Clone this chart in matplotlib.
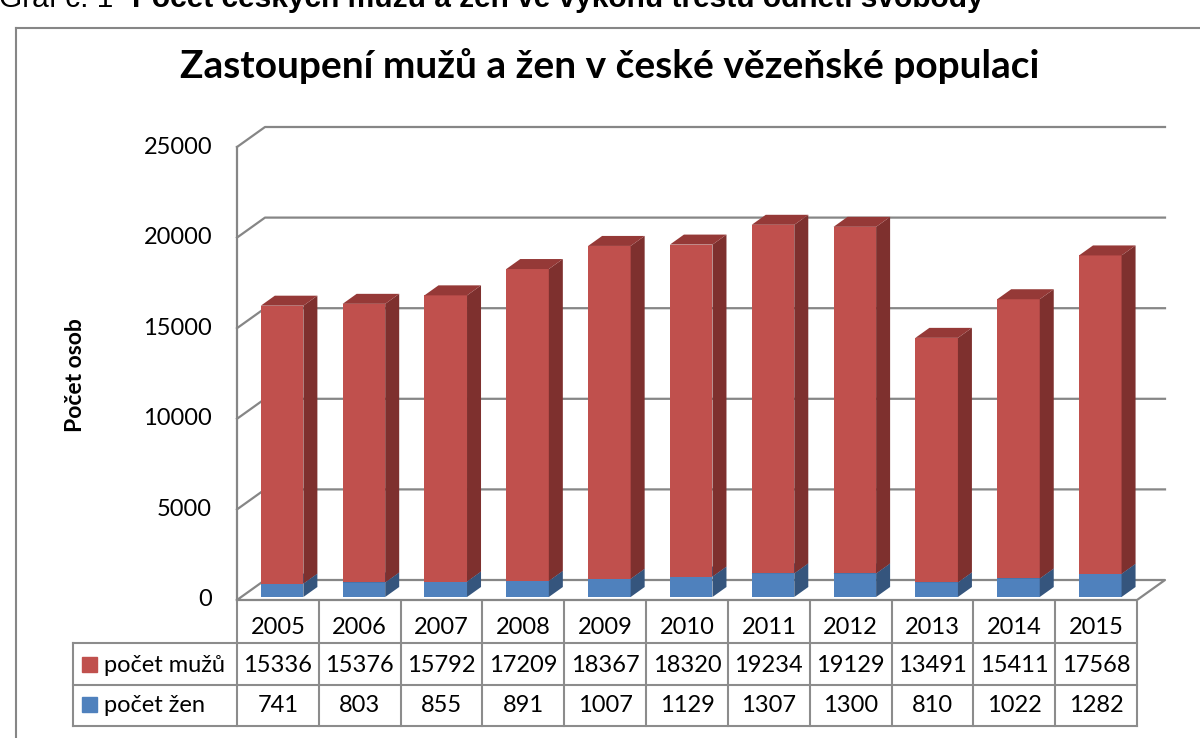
import numpy as np
import matplotlib.pyplot as plt
from matplotlib.patches import Polygon, Rectangle
from matplotlib import transforms

roky = ["2005", "2006", "2007", "2008", "2009", "2010", "2011", "2012", "2013", "2014", "2015"]
muzi = [15336, 15376, 15792, 17209, 18367, 18320, 19234, 19129, 13491, 15411, 17568]
zeny = [741, 803, 855, 891, 1007, 1129, 1307, 1300, 810, 1022, 1282]
yticks = [0, 5000, 10000, 15000, 20000, 25000]

plt.rcParams['font.family'] = ['Lato', 'DejaVu Sans']
W, H = 1200, 738
fy = lambda py: 1 - py / H
fs = 17

fig = plt.figure(figsize=(12, 7.38), dpi=100)
ax = fig.add_axes([237 / W, 138 / H, 900 / W, 453 / H])
ax.set_xlim(-0.5, 10.5)
ax.set_ylim(0, 25000)
ax.axis('off')

# hloubka 3D efektu (v jednotkach dat)
DX, DY = 28 / 81.82, 20 / (453 / 25000)
grid_c = '#868686'

# zadni stena - mrizka
for v in yticks[1:]:
    ax.plot([-0.5, -0.5 + DX, 10.5 + DX], [v, v + DY, v + DY], color=grid_c, lw=1.6, clip_on=False, zorder=1)
ax.plot([-0.5, -0.5], [0, 25000], color=grid_c, lw=1.6, clip_on=False, zorder=1)
# podlaha
ax.plot([-0.5, 10.5, 10.5 + DX, -0.5 + DX, -0.5], [0, 0, DY, DY, 0], color=grid_c, lw=1.6, clip_on=False, zorder=1)

tick_tr = transforms.offset_copy(ax.transData, fig, x=-25, y=0, units='dots')
for v in yticks:
    ax.text(-0.5, v, str(v), transform=tick_tr, ha='right', va='center', fontsize=fs)

# sloupce
x = np.arange(len(roky))
w = 0.52
f0, f1 = 0.15, 0.65
ox, oy = f0 * DX, f0 * DY
dx, dy = (f1 - f0) * DX, (f1 - f0) * DY
zeny_a = np.array(zeny)
muzi_a = np.array(muzi)


def kvadr(bottoms, heights, front, side, top, z):
    ax.bar(x + ox, heights, width=w, bottom=bottoms + oy, color=front, zorder=z, clip_on=False)
    for xi, b, h in zip(x, bottoms, heights):
        xl, xr = xi + ox - w / 2, xi + ox + w / 2
        b, t = b + oy, b + h + oy
        ax.add_patch(Polygon([(xr, b), (xr + dx, b + dy), (xr + dx, t + dy), (xr, t)],
                             closed=True, facecolor=side, edgecolor='none', zorder=z, clip_on=False))
        ax.add_patch(Polygon([(xl, t), (xl + dx, t + dy), (xr + dx, t + dy), (xr, t)],
                             closed=True, facecolor=top, edgecolor='none', zorder=z, clip_on=False))


kvadr(np.zeros(len(x)), zeny_a, '#4F81BD', '#35557D', '#3E6699', 3)
kvadr(zeny_a, muzi_a, '#C0504D', '#7E302E', '#953937', 4)

# tabulka dat
tt = transforms.blended_transform_factory(ax.transData, fig.transFigure)
tab_c = '#8c8c8c'
for py in [643, 685, 726]:
    ax.plot([-2.5, 10.5], [fy(py), fy(py)], color=tab_c, lw=1.5, transform=tt, clip_on=False)
ax.plot([-2.5, -2.5], [fy(643), fy(726)], color=tab_c, lw=1.5, transform=tt, clip_on=False)
for k in range(len(roky) + 1):
    ax.plot([k - 0.5, k - 0.5], [fy(602), fy(726)], color=tab_c, lw=1.5, transform=tt, clip_on=False)
for i in range(len(roky)):
    ax.text(x[i], fy(627), roky[i], transform=tt, ha='center', va='center', fontsize=fs)
    ax.text(x[i], fy(665), str(muzi[i]), transform=tt, ha='center', va='center', fontsize=fs)
    ax.text(x[i], fy(706), str(zeny[i]), transform=tt, ha='center', va='center', fontsize=fs)

ax.text(-2.125, fy(665), 'počet mužů', transform=tt, ha='left', va='center', fontsize=fs)
ax.text(-2.125, fy(706), 'počet žen', transform=tt, ha='left', va='center', fontsize=fs)
fig.add_artist(Rectangle((82 / W, fy(672)), 15 / W, 15 / H, transform=fig.transFigure, color='#C0504D'))
fig.add_artist(Rectangle((82 / W, fy(712)), 15 / W, 15 / H, transform=fig.transFigure, color='#4F81BD'))

# popisky
fig.text(610 / W, fy(66), 'Zastoupení mužů a žen v české vězeňské populaci', ha='center', va='center',
         fontsize=28, fontweight='bold')
fig.text(76 / W, fy(375), 'Počet osob', rotation=90, ha='center', va='center', fontsize=16.5, fontweight='bold')

# ramecek grafu
fig.add_artist(plt.Line2D([16 / W, 16 / W], [0, fy(28)], color=grid_c, lw=1.5, transform=fig.transFigure))
fig.add_artist(plt.Line2D([16 / W, 1], [fy(28), fy(28)], color=grid_c, lw=1.5, transform=fig.transFigure))

# titulek nad grafem (oriznuty jako v predloze)
fig.text(-1 / W, fy(7), 'Graf č. 1', ha='left', va='baseline', fontsize=21.5, family='Liberation Sans')
fig.text(132 / W, fy(7), 'Počet českých mužů a žen ve výkonu trestu odnětí svobody', ha='left',
         va='baseline', fontsize=21.5, fontweight='bold', family='Liberation Sans')

fig.savefig('out.png', dpi=100)
